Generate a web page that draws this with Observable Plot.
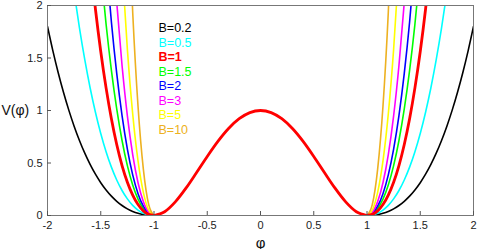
<!DOCTYPE html>
<html><head><meta charset="utf-8">
<script src="https://cdn.jsdelivr.net/npm/d3@7"></script>
<script src="https://cdn.jsdelivr.net/npm/@observablehq/plot@0.6"></script>
<style>body{margin:0;background:#fff;font-family:"Liberation Sans",Arial,sans-serif}</style>
</head><body><div id="chart"></div>
<script>
// Legend / series
const bLabels = ["B=0.2", "B=0.5", "B=1", "B=1.5", "B=2", "B=3", "B=5", "B=10"];
const bColors = ["#000000", "#00ffff", "#ff0000", "#00ff00", "#0000ff", "#ff00ff", "#ffff00", "#edb120"];
// |φ| sample positions for outer branches (|φ| >= 1)
const phiOuter = [1, 1.05, 1.1, 1.15, 1.2, 1.25, 1.3, 1.35, 1.4, 1.45, 1.5, 1.55, 1.6, 1.65, 1.7, 1.75, 1.8, 1.85, 1.9, 1.95, 2];
// V values on the outer branches, one list per B
const vB02 = [0, 0.0021, 0.0088, 0.0208, 0.0387, 0.0633, 0.0952, 0.1353, 0.1843, 0.2431, 0.3125, 0.3934, 0.4867, 0.5934, 0.7144, 0.8508, 1.0035, 1.1737, 1.3624, 1.5708, 1.8];
const vB05 = [0, 0.0053, 0.0221, 0.052, 0.0968, 0.1582, 0.2381, 0.3383, 0.4608, 0.6078, 0.7813, 0.9835, 1.2168, 1.4835, 1.7861, 2.127];
const vB1  = [0, 0.0105, 0.0441, 0.104, 0.1936, 0.3164, 0.4761, 0.6765, 0.9216, 1.2155, 1.5625, 1.967, 2.434];
const vB15 = [0, 0.0158, 0.0662, 0.156, 0.2904, 0.4746, 0.7142, 1.0148, 1.3824, 1.8233, 2.3438];
const vB2  = [0, 0.021, 0.0882, 0.208, 0.3872, 0.6328, 0.9522, 1.353, 1.8432, 2.431];
const vB3  = [0, 0.0315, 0.1323, 0.312, 0.5808, 0.9492, 1.4283, 2.0295];
const vB5  = [0, 0.0525, 0.2205, 0.52, 0.968, 1.582, 2.3805];
const vB10 = [0, 0.105, 0.441, 1.04, 1.936, 3.164];
const outerValues = [vB02, vB05, vB1, vB15, vB2, vB3, vB5, vB10];
// Inner branch (|φ| <= 1), shared by all B (drawn in red)
const phiInner = [-1, -0.9, -0.8, -0.7, -0.6, -0.5, -0.4, -0.3, -0.2, -0.1, 0, 0.1, 0.2, 0.3, 0.4, 0.5, 0.6, 0.7, 0.8, 0.9, 1];
const vInner = [0, 0.0361, 0.1296, 0.2601, 0.4096, 0.5625, 0.7056, 0.8281, 0.9216, 0.9801, 1, 0.9801, 0.9216, 0.8281, 0.7056, 0.5625, 0.4096, 0.2601, 0.1296, 0.0361, 0];
// Axis ticks
const xTicks = [-2, -1.5, -1, -0.5, 0, 0.5, 1, 1.5, 2];
const yTicks = [0, 0.5, 1, 1.5, 2];

const rows = [];
outerValues.forEach((vals, i) => {
  for (const side of [-1, 1]) {
    vals.forEach((v, j) => rows.push({x: side * phiOuter[j], y: v, b: bLabels[i], z: bLabels[i] + side}));
  }
});
const inner = phiInner.map((p, j) => ({x: p, y: vInner[j], b: "B=1", z: "inner"}));

const others = rows.filter(d => d.b !== "B=1");
const red = rows.filter(d => d.b === "B=1");

const marks = [
  Plot.line(others, {x: "x", y: "y", z: "z", stroke: "b", strokeWidth: 1.6, curve: "monotone-x", clip: true}),
  Plot.line(red, {x: "x", y: "y", z: "z", stroke: "b", strokeWidth: 2.8, curve: "monotone-x", clip: true}),
  Plot.line(inner, {x: "x", y: "y", z: "z", stroke: "b", strokeWidth: 2.8, curve: "monotone-x", clip: true}),
  Plot.frame({stroke: "#777", strokeWidth: 1}),
  Plot.axisX(xTicks, {tickSize: -4, text: null, label: null, stroke: "#555"}),
  Plot.axisX(xTicks, {tickSize: 0, tickPadding: 6, label: null, tickFormat: d => String(d), fontSize: 11, fill: "#222"}),
  Plot.axisY(yTicks, {tickSize: -4, text: null, label: null, stroke: "#555"}),
  Plot.axisY(yTicks, {tickSize: 0, tickPadding: 5, label: null, tickFormat: d => String(d), fontSize: 11, fill: "#222"}),
  Plot.text(["V(φ)"], {frameAnchor: "left", textAnchor: "start", dx: -46, fontSize: 14, fill: "#111"}),
  Plot.text(["φ"], {frameAnchor: "bottom", dy: 32, fontSize: 15, fill: "#111"})
];
bLabels.forEach((lab, i) => {
  marks.push(Plot.text([lab], {frameAnchor: "top-left", textAnchor: "start", dx: 111, dy: 18 + i * 14.5, fontSize: 12.5, fill: bColors[i], fontWeight: lab === "B=1" ? "bold" : "normal"}));
});

const chart = Plot.plot({
  width: 491, height: 249,
  marginLeft: 47, marginRight: 18, marginTop: 5, marginBottom: 34,
  style: {fontFamily: "Liberation Sans, Arial, sans-serif", background: "#fff"},
  x: {domain: [-2, 2], axis: null},
  y: {domain: [0, 2], axis: null},
  color: {domain: bLabels, range: bColors},
  marks
});
document.getElementById("chart").appendChild(chart);
</script>
</body></html>
